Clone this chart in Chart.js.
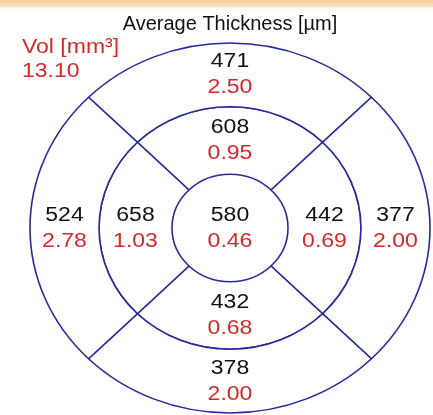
<!DOCTYPE html>
<html>
<head>
<meta charset="utf-8">
<script src="https://cdn.jsdelivr.net/npm/chart.js@4.4.1/dist/chart.umd.min.js"></script>
<style>
  html, body { margin: 0; padding: 0; overflow: hidden; }
  body { width: 433px; height: 415px; background: linear-gradient(#f3d09a 0px, #f7e0bb 6px, #fff 9px); }
  canvas { display: block; }
</style>
</head>
<body>
<canvas id="grid" width="433" height="415" style="width:433px;height:415px"></canvas>
<script>
// ETDRS sectors, clockwise from the top
const sectors = ['Top', 'Right', 'Bottom', 'Left'];
const outerThickness = [471, 377, 378, 524];
const outerVolume = [2.50, 2.00, 2.00, 2.78];
const innerThickness = [608, 442, 432, 658];
const innerVolume = [0.95, 0.69, 0.68, 1.03];
const centerThickness = [580];
const centerVolume = [0.46];
const totalVolume = 13.10;

const lineColor = '#28299a';
const red = '#d32a2a';
const black = '#111';
const squash = 0.925;   // grid is a bit flatter than round
const stretch = 1.15;   // numbers look wider than plain Arial
const numFont = '20px Arial, "Liberation Sans", sans-serif';

function drawLabel(ctx, text, x, y, color, align) {
  ctx.save();
  ctx.translate(x, y);
  ctx.scale(stretch, 1);
  ctx.textAlign = align || 'center';
  ctx.fillStyle = color;
  ctx.fillText(text, 0, 0);
  ctx.restore();
}

const etdrsPlugin = {
  id: 'etdrs',
  beforeDatasetsDraw(chart) {
    const c = chart.getDatasetMeta(0).data[0];
    const ctx = chart.ctx;
    ctx.save();
    ctx.translate(c.x, c.y);
    ctx.scale(1, squash);
    ctx.translate(-c.x, -c.y);
  },
  afterDatasetsDraw(chart) {
    const ctx = chart.ctx;
    ctx.restore();
    const cy = chart.getDatasetMeta(0).data[0].y;
    ctx.save();
    ctx.font = numFont;
    ctx.textBaseline = 'middle';
    chart.data.datasets.forEach((ds, i) => {
      chart.getDatasetMeta(i).data.forEach((el, j) => {
        // center disc: label at its middle, ring cells: mid of the cell
        const p = ds.data.length === 1 ? { x: el.x, y: el.y } : el.tooltipPosition();
        const y = cy + (p.y - cy) * squash;
        drawLabel(ctx, String(ds.thickness[j]), p.x, y - 13, black);
        drawLabel(ctx, ds.volume[j].toFixed(2), p.x, y + 13, red);
      });
    });
    drawLabel(ctx, 'Vol [mm³]', 22, 47, red, 'left');
    drawLabel(ctx, totalVolume.toFixed(2), 22, 71, red, 'left');
    ctx.restore();
  }
};

new Chart(document.getElementById('grid'), {
  type: 'doughnut',
  data: {
    labels: sectors,
    datasets: [
      { label: 'Outer', data: sectors.map(() => 1), thickness: outerThickness, volume: outerVolume, weight: 69 },
      { label: 'Inner', data: sectors.map(() => 1), thickness: innerThickness, volume: innerVolume, weight: 73 },
      { label: 'Center', data: [1], thickness: centerThickness, volume: centerVolume, weight: 58, borderWidth: 0 }
    ]
  },
  options: {
    responsive: false,
    animation: false,
    events: [],
    devicePixelRatio: 1,
    radius: 200,
    cutout: 0,
    rotation: -45,
    clip: false,
    layout: { padding: { left: 30, right: 3, top: 0, bottom: 0 } },
    elements: {
      arc: { backgroundColor: '#fff', borderColor: lineColor, borderWidth: 1.6 }
    },
    plugins: {
      legend: { display: false },
      tooltip: { enabled: false },
      title: {
        display: true,
        text: 'Average Thickness [µm]',
        fullSize: false,
        color: black,
        font: { family: 'Arial, "Liberation Sans", sans-serif', size: 20, weight: 'normal' },
        padding: { top: 12, bottom: 5 }
      }
    }
  },
  plugins: [etdrsPlugin]
});
</script>
</body>
</html>
